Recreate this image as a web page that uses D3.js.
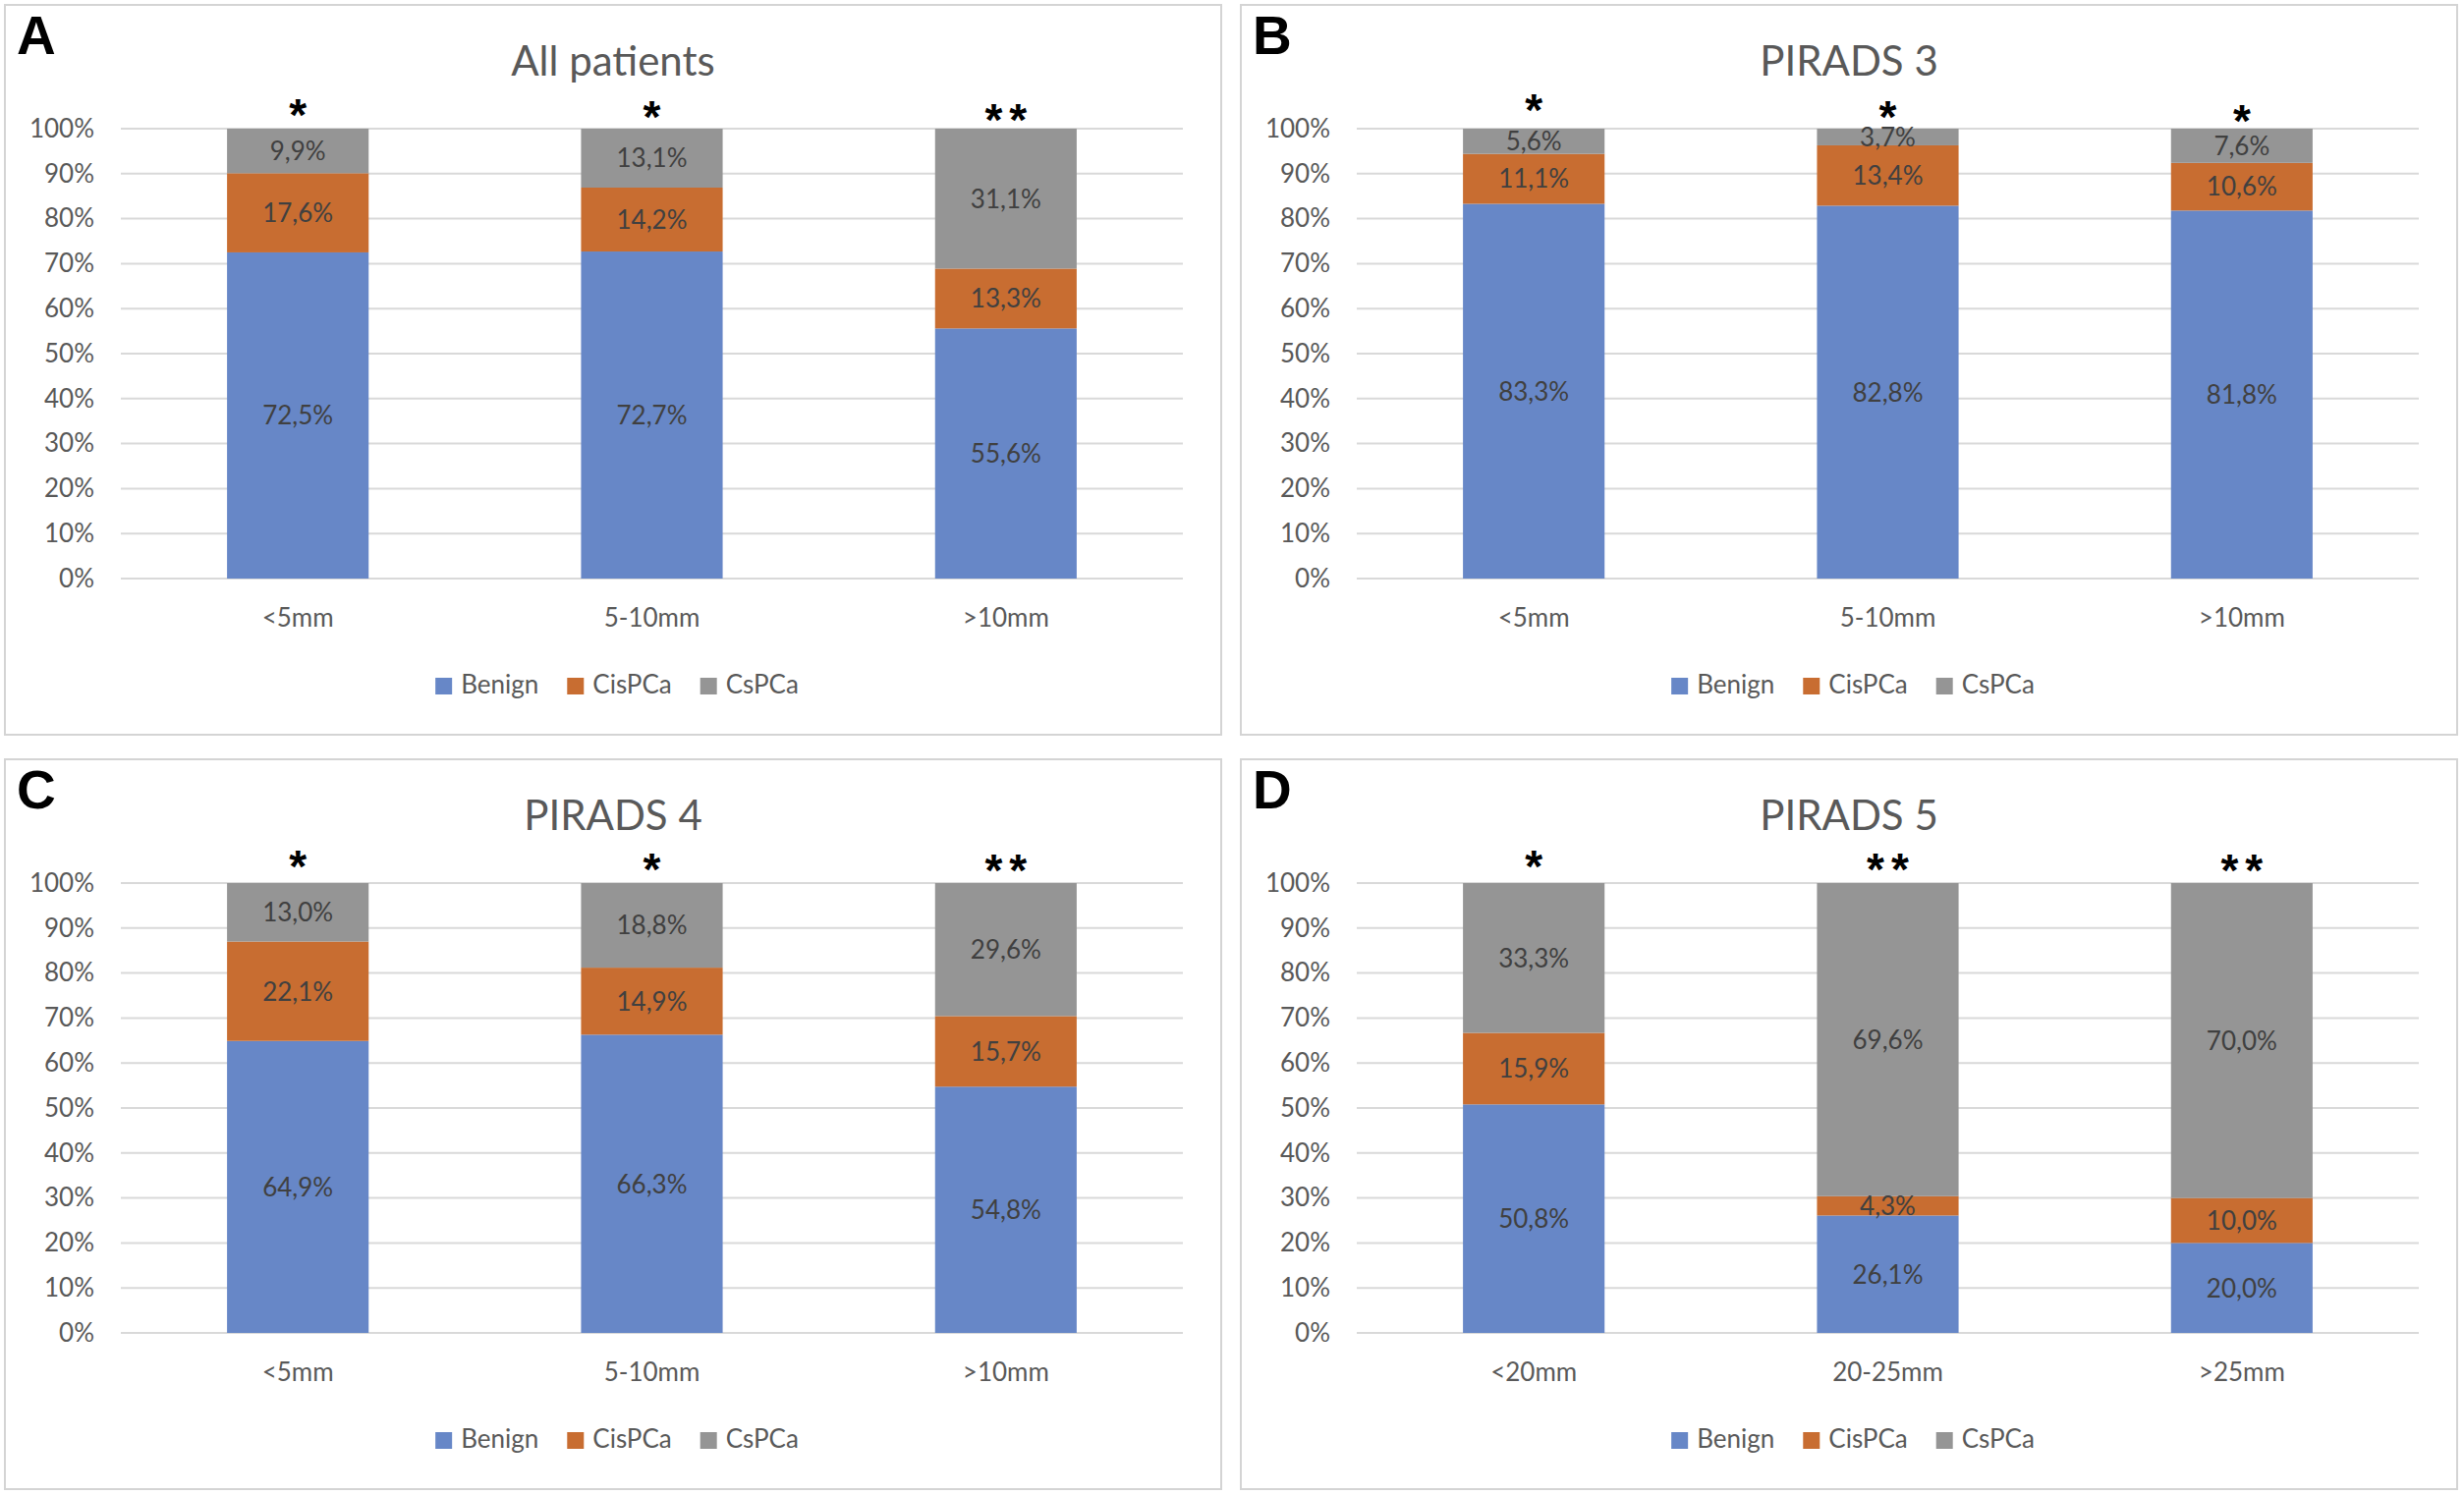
<!DOCTYPE html>
<html>
<head>
<meta charset="utf-8">
<script src="https://cdn.jsdelivr.net/npm/d3@7"></script>
<style>
  html, body { margin: 0; padding: 0; background: #ffffff; }
  svg { display: block; }
</style>
</head>
<body>
<svg id="chart" width="2508" height="1522"></svg>
<script>
// ---------- DATA ----------
const seriesNames = ["Benign", "CisPCa", "CsPCa"];
const seriesColors = ["#6787c7", "#c86d31", "#959595"];
const sizeCategories = ["<5mm", "5-10mm", ">10mm"];
const pirads5Categories = ["<20mm", "20-25mm", ">25mm"];
const yTickValues = [0, 10, 20, 30, 40, 50, 60, 70, 80, 90, 100];

const panelLetters = ["A", "B", "C", "D"];
const panelTitles = ["All patients", "PIRADS 3", "PIRADS 4", "PIRADS 5"];

const allBenign = [72.5, 72.7, 55.6];
const allCisPCa = [17.6, 14.2, 13.3];
const allCsPCa  = [9.9, 13.1, 31.1];
const allStars  = ["*", "*", "**"];

const p3Benign = [83.3, 82.8, 81.8];
const p3CisPCa = [11.1, 13.4, 10.6];
const p3CsPCa  = [5.6, 3.7, 7.6];
const p3Stars  = ["*", "*", "*"];

const p4Benign = [64.9, 66.3, 54.8];
const p4CisPCa = [22.1, 14.9, 15.7];
const p4CsPCa  = [13.0, 18.8, 29.6];
const p4Stars  = ["*", "*", "**"];

const p5Benign = [50.8, 26.1, 20.0];
const p5CisPCa = [15.9, 4.3, 10.0];
const p5CsPCa  = [33.3, 69.6, 70.0];
const p5Stars  = ["*", "**", "**"];

// ---------- LAYOUT ----------
const panelOrigins = [[5, 5], [1263, 5], [5, 773], [1263, 773]];
const panelW = 1238, panelH = 743;
// vertical centre of each significance mark, relative to the panel top
const starCenters = [[105, 107, 110], [100, 107, 111], [102, 105, 106], [102, 105, 106]];
const STAR_FS = 46, STAR_LS = 7;

const panels = [
  { cats: sizeCategories, series: [allBenign, allCisPCa, allCsPCa], stars: allStars },
  { cats: sizeCategories, series: [p3Benign, p3CisPCa, p3CsPCa], stars: p3Stars },
  { cats: sizeCategories, series: [p4Benign, p4CisPCa, p4CsPCa], stars: p4Stars },
  { cats: pirads5Categories, series: [p5Benign, p5CisPCa, p5CsPCa], stars: p5Stars }
];

const FONT = "Lato, 'Open Sans', sans-serif";
const svg = d3.select("#chart");

const fmt = v => v.toFixed(1).replace(".", ",") + "%";

panels.forEach((p, pi) => {
  const [ox, oy] = panelOrigins[pi];
  const g = svg.append("g").attr("transform", `translate(${ox},${oy})`);

  g.append("rect")
    .attr("x", 0).attr("y", 0).attr("width", panelW).attr("height", panelH)
    .attr("fill", "#fff").attr("stroke", "#d4d4d4").attr("stroke-width", 2);

  // letter
  g.append("text").attr("x", 12).attr("y", 50)
    .attr("font-family", "'Liberation Sans', Arial, sans-serif")
    .attr("font-weight", "bold").attr("font-size", 55).attr("fill", "#000")
    .text(panelLetters[pi]);

  // title
  g.append("text").attr("x", panelW / 2).attr("y", 72)
    .attr("text-anchor", "middle").attr("font-family", FONT)
    .attr("font-size", 42).attr("fill", "#595959")
    .text(panelTitles[pi]);

  const x = d3.scaleBand().domain(p.cats).range([118, 1199])
    .paddingInner(0.6).paddingOuter(0.3);
  const y = d3.scaleLinear().domain([0, 100]).range([584, 126]);

  // gridlines
  g.append("g").selectAll("line").data(yTickValues).join("line")
    .attr("x1", 118).attr("x2", 1199)
    .attr("y1", d => y(d)).attr("y2", d => y(d))
    .attr("stroke", "#d9d9d9").attr("stroke-width", 2);

  // y axis labels
  const yAxis = d3.axisLeft(y).tickValues(yTickValues).tickFormat(d => d + "%").tickSize(0).tickPadding(0);
  const ya = g.append("g").attr("transform", "translate(91,0)").call(yAxis);
  ya.select(".domain").remove();
  ya.selectAll("text").attr("font-family", FONT).attr("font-size", 26).attr("fill", "#595959");

  // x axis labels
  const xAxis = d3.axisBottom(x).tickSize(0).tickPadding(0);
  const xa = g.append("g").attr("transform", "translate(0,633)").call(xAxis);
  xa.select(".domain").remove();
  xa.selectAll("text").attr("font-family", FONT).attr("font-size", 26).attr("fill", "#595959")
    .attr("dy", 0).attr("y", 0);

  // stacked data
  const rows = p.cats.map((c, i) => {
    const r = { cat: c };
    seriesNames.forEach((s, si) => r[s] = p.series[si][i]);
    return r;
  });
  const stack = d3.stack().keys(seriesNames).offset(d3.stackOffsetExpand);
  const stacked = stack(rows);

  stacked.forEach((layer, si) => {
    const lg = g.append("g");
    lg.selectAll("rect").data(layer).join("rect")
      .attr("x", d => x(d.data.cat)).attr("width", x.bandwidth())
      .attr("y", d => y(d[1] * 100)).attr("height", d => y(d[0] * 100) - y(d[1] * 100))
      .attr("fill", seriesColors[si]);
  });
  stacked.forEach((layer, si) => {
    g.append("g").selectAll("text").data(layer).join("text")
      .attr("x", d => x(d.data.cat) + x.bandwidth() / 2)
      .attr("y", d => y((d[0] + d[1]) * 50))
      .attr("dy", "0.36em")
      .attr("text-anchor", "middle").attr("font-family", FONT).attr("font-size", 26)
      .attr("fill", "#404040")
      .text(d => fmt(d.data[seriesNames[si]]));
  });

  // significance stars
  g.append("g").selectAll("text").data(p.stars).join("text")
    .attr("x", (d, i) => x(p.cats[i]) + x.bandwidth() / 2 + STAR_LS / 2)
    .attr("y", (d, i) => starCenters[pi][i] + STAR_FS * 0.5)
    .attr("text-anchor", "middle")
    .attr("font-family", "'Liberation Sans', Arial, sans-serif")
    .attr("font-weight", "bold").attr("font-size", STAR_FS)
    .attr("letter-spacing", STAR_LS).attr("fill", "#000")
    .text(d => d);

  // legend
  const leg = g.append("g");
  let cx = 0;
  seriesNames.forEach((s, si) => {
    const it = leg.append("g").attr("transform", `translate(${cx},0)`);
    it.append("rect").attr("x", 0).attr("y", 685).attr("width", 17).attr("height", 17)
      .attr("fill", seriesColors[si]);
    const t = it.append("text").attr("x", 26).attr("y", 701)
      .attr("font-family", FONT).attr("font-size", 26).attr("fill", "#595959").text(s);
    cx += 26 + t.node().getComputedTextLength() + 29;
  });
  const legW = cx - 29;
  leg.attr("transform", `translate(${623 - legW / 2},0)`);
});
</script>
</body>
</html>
